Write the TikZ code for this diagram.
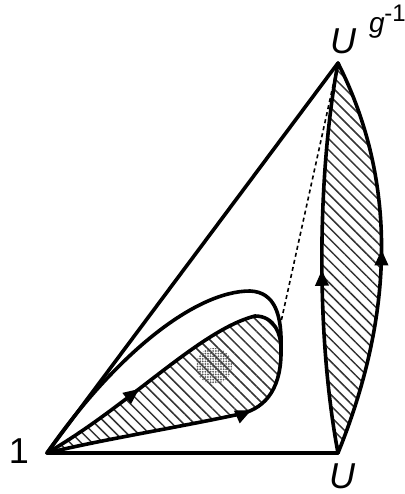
\documentclass[tikz,border=0pt]{standalone}
\usepackage{fontspec}
\setmainfont{Liberation Sans}
\usetikzlibrary{patterns.meta,decorations.markings,arrows.meta}
\begin{document}
\begin{tikzpicture}[x=0.5pt,y=-0.5pt,
  curve/.style={line width=1.8pt, line join=round, line cap=round},
  hatch/.style={pattern={Lines[angle=-45,distance=3.9pt,line width=0.75pt]}, pattern color=black!80},
  midarrow/.style={postaction={decorate},decoration={markings,mark=at position #1 with {\arrow{Triangle[length=8pt,width=6.5pt]}}}},
  lab/.style={font=\fontsize{18}{20}\selectfont\itshape, inner sep=0pt}]
\useasboundingbox (0,0) rectangle (404,494);
\coordinate (one) at (47,453);
\coordinate (U) at (338,453);
\coordinate (Ug) at (338,63);
\coordinate (tip) at (281,348);
\coordinate (dend) at (281,322);
\coordinate (blob) at (214,366);
% right lens hatch
\path[hatch] (U) .. controls (315,330) and (318,170) .. (Ug)
  .. controls (392,170) and (400,300) .. (U) -- cycle;
% lobe hatch
\path[hatch] (one) .. controls (130,405) and (200,330) .. (255,316)
  .. controls (275,316) and (281,335) .. (tip)
  .. controls (282,385) and (268,408) .. (240,414)
  .. controls (180,427) and (100,440) .. (one) -- cycle;
\fill[pattern={Dots[distance=1.3pt,radius=0.5pt]}, pattern color=black!65] (blob) circle[radius=9pt];
% triangle
\draw[curve] (Ug) -- (one) -- (U);
% dashed
\draw[dash pattern=on 2pt off 1.6pt, line width=0.8pt] (Ug) -- (dend);
% lens curves
\draw[curve, midarrow=0.47] (U) .. controls (315,330) and (318,170) .. (Ug);
\draw[curve, midarrow=0.52] (U) .. controls (400,300) and (392,170) .. (Ug);
% lobe curves
\draw[curve] (one) .. controls (115,355) and (195,291) .. (250,291)
  .. controls (275,292) and (282,315) .. (tip);
\draw[curve, midarrow=0.38] (one) .. controls (130,405) and (200,330) .. (255,316)
  .. controls (275,316) and (281,335) .. (tip);
\draw[curve, midarrow=0.74] (one) .. controls (100,440) and (180,427) .. (240,414)
  .. controls (268,408) and (282,385) .. (tip);
% labels
\node[lab] (l1) at (19,451) {\upshape 1};
\node[lab] (lU) at (342,476) {U};
\node[lab] (lUg) at (343,41) {U};
\node[font=\fontsize{14}{16}\selectfont\itshape, inner sep=0pt] (lg) at (377,28) {g};
\node[font=\fontsize{12}{14}\selectfont, inner sep=0pt] (lm) at (395,13) {-1};
\end{tikzpicture}
\end{document}
